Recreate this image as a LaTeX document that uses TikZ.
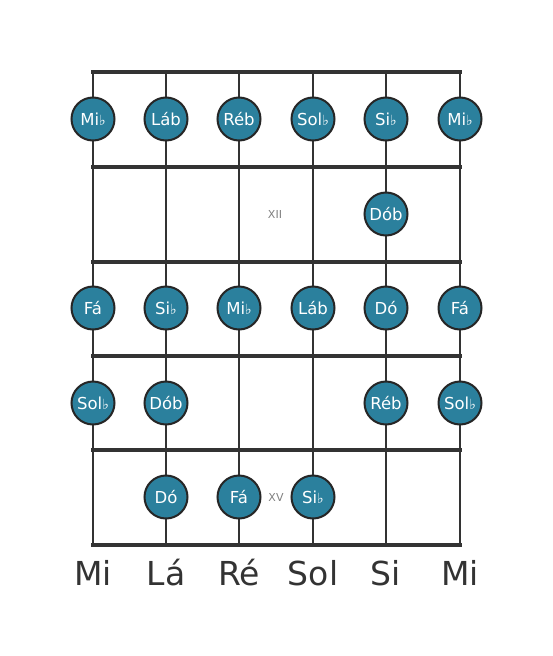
\documentclass[tikz,border=0pt]{standalone}
\usepackage{fontspec}
\setmainfont{DejaVu Sans}
\definecolor{notefill}{HTML}{2B809D}
\definecolor{lineclr}{HTML}{333333}
\newcommand{\fl}{{\fontsize{14}{14}\selectfont ♭}}
\begin{document}
\begin{tikzpicture}[x=1pt,y=-1pt,
  fretline/.style={draw=lineclr,line width=4.4pt,line cap=rect},
  stringline/.style={draw=lineclr,line width=2.6pt},
  note/.style={circle,draw=black!85,line width=2pt,fill=notefill,minimum size=43pt,inner sep=0pt,
    text=white,font=\fontsize{16.5}{16.5}\selectfont},
  posmark/.style={text=gray,font=\fontsize{11}{11}\selectfont},
  sname/.style={text=lineclr,font=\fontsize{33}{33}\selectfont,anchor=base}]
\useasboundingbox (0,0) rectangle (553,656);
% strings
\foreach \x/\n in {93/s1,166/s2,239/s3,313/s4,386/s5,460/s6}{
  \coordinate (\n t) at (\x,72);
  \coordinate (\n b) at (\x,545);
  \draw[stringline] (\n t) -- (\n b);
}
% frets
\foreach \y/\n in {72/f0,167/f1,262/f2,356/f3,450/f4,545/f5}{
  \coordinate (\n l) at (93,\y);
  \coordinate (\n r) at (460,\y);
  \draw[fretline] (\n l) -- (\n r);
}
% position marks
\node[posmark] (xii) at (275,214) {XII};
\node[posmark] (xv) at (276,497) {XV};
% row 1
\node[note] (a1) at (93,119) {Mi\fl};
\node[note] (a2) at (166,119) {Láb};
\node[note] (a3) at (239,119) {Réb};
\node[note] (a4) at (313,119) {Sol\fl};
\node[note] (a5) at (386,119) {Si\fl};
\node[note] (a6) at (460,119) {Mi\fl};
% row 2
\node[note] (b5) at (386,214) {Dób};
% row 3
\node[note] (c1) at (93,308) {Fá};
\node[note] (c2) at (166,308) {Si\fl};
\node[note] (c3) at (239,308) {Mi\fl};
\node[note] (c4) at (313,308) {Láb};
\node[note] (c5) at (386,308) {Dó};
\node[note] (c6) at (460,308) {Fá};
% row 4
\node[note] (d1) at (93,403) {Sol\fl};
\node[note] (d2) at (166,403) {Dób};
\node[note] (d5) at (386,403) {Réb};
\node[note] (d6) at (460,403) {Sol\fl};
% row 5
\node[note] (e2) at (166,497) {Dó};
\node[note] (e3) at (239,497) {Fá};
\node[note] (e4) at (313,497) {Si\fl};
% string names
\node[sname] (n1) at (93,585) {Mi};
\node[sname] (n2) at (166,585) {Lá};
\node[sname] (n3) at (239,585) {Ré};
\node[sname] (n4) at (313,585) {Sol};
\node[sname] (n5) at (386,585) {Si};
\node[sname] (n6) at (460,585) {Mi};
\end{tikzpicture}
\end{document}
